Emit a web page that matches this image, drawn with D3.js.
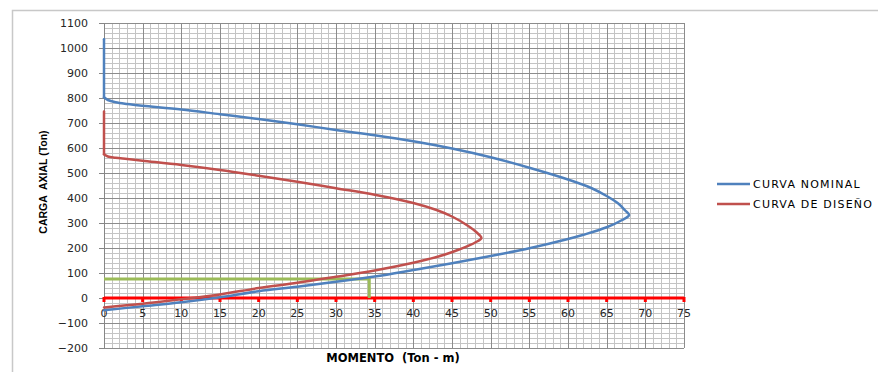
<!DOCTYPE html>
<html>
<head>
<meta charset="utf-8">
<script src="https://cdn.jsdelivr.net/npm/d3@7"></script>
<style>
  html, body { margin: 0; padding: 0; background: #ffffff; }
  svg { display: block; }
</style>
</head>
<body>
<svg id="chart" width="878" height="372"></svg>
<script>
// Interaction diagram: nominal curve and design curve (moment vs axial load)
const nominalMoment = [0, 0, 0.5, 1.5, 3, 5, 10, 15, 20, 25, 30, 35, 40, 45, 50, 55, 60, 63, 65, 66.5, 67.4, 67.9, 67, 65, 62, 60, 55, 50, 45, 40, 35, 30, 25, 20, 15, 10, 5, 0];
const nominalLoad   = [1035, 803, 792, 783, 776, 769, 754, 735, 716, 695, 672, 651, 627, 598, 563, 521, 474, 440, 408, 378, 350, 332, 312, 283, 253, 236, 199, 168, 139, 112, 86, 65, 45, 27, 3, -17, -33, -49];

const designMoment = [0, 0, 0.5, 1.5, 3, 5, 10, 15, 20, 25, 30, 35, 40, 43, 45, 47, 48.2, 48.8, 48, 46, 44, 42, 40, 35, 30, 25, 20, 15, 10, 5, 0];
const designLoad   = [746, 575, 566, 561, 556, 549, 532, 512, 489, 465, 439, 413, 380, 352, 326, 290, 262, 240, 222, 195, 173, 156, 141, 110, 85, 61, 40, 14, -5, -23, -38];

// Design point: required load and moment
const demandMoment = [0, 34.3, 34.3];
const demandLoad   = [76, 76, 0];

const xTicks = d3.range(0, 80, 5);
const yTicks = d3.range(-200, 1200, 100);
const seriesNames = ["CURVA NOMINAL", "CURVA DE DISEÑO"];
const seriesColors = ["#4F81BD", "#C0504D"];

const svg = d3.select("#chart");
const x = d3.scaleLinear().domain([0, 75]).range([104, 684]);
const y = d3.scaleLinear().domain([-200, 1100]).range([348, 23]);

// outer chart frame
svg.append("rect")
  .attr("x", 12.5).attr("y", 10.5).attr("width", 900).attr("height", 400)
  .attr("fill", "none").attr("stroke", "#c8c8c8").attr("stroke-width", 1.5);

const grid = svg.append("g").attr("shape-rendering", "crispEdges");
// minor grid
d3.range(0, 76, 1).filter(v => v % 5 !== 0).forEach(v => {
  grid.append("line")
    .attr("x1", Math.round(x(v)) + 0.5).attr("x2", Math.round(x(v)) + 0.5)
    .attr("y1", y(1100)).attr("y2", y(-200))
    .attr("stroke", "#c4c4c4").attr("stroke-width", 1);
});
d3.range(-200, 1101, 20).filter(v => v % 100 !== 0).forEach(v => {
  grid.append("line")
    .attr("x1", x(0)).attr("x2", x(75))
    .attr("y1", Math.round(y(v)) + 0.5).attr("y2", Math.round(y(v)) + 0.5)
    .attr("stroke", "#c4c4c4").attr("stroke-width", 1);
});
// major grid
xTicks.forEach(v => {
  grid.append("line")
    .attr("x1", Math.round(x(v)) + 0.5).attr("x2", Math.round(x(v)) + 0.5)
    .attr("y1", y(1100)).attr("y2", y(-200))
    .attr("stroke", "#8c8c8c").attr("stroke-width", 1);
});
yTicks.forEach(v => {
  grid.append("line")
    .attr("x1", x(0)).attr("x2", x(75))
    .attr("y1", Math.round(y(v)) + 0.5).attr("y2", Math.round(y(v)) + 0.5)
    .attr("stroke", "#8c8c8c").attr("stroke-width", 1);
});

// y axis
const yAxis = d3.axisLeft(y).tickValues(yTicks).tickSize(5).tickPadding(11).tickFormat(d3.format("d"));
const gy = svg.append("g").attr("transform", `translate(${x(0)},0)`).call(yAxis);
gy.select(".domain").attr("stroke", "#868686");
gy.selectAll(".tick line").attr("stroke", "#868686");
gy.selectAll("text")
  .attr("font-family", "DejaVu Sans, sans-serif").attr("font-size", 11)
  .attr("fill", "#262626");

// x axis drawn along zero load, in red
const xAxisG = svg.append("g").attr("transform", `translate(0,${y(0)})`);
xAxisG.append("line")
  .attr("x1", x(0)).attr("x2", x(75)).attr("y1", 0).attr("y2", 0)
  .attr("stroke", "#FF0000").attr("stroke-width", 3);
xAxisG.selectAll("line.tk").data(xTicks).join("line")
  .attr("class", "tk")
  .attr("x1", d => x(d)).attr("x2", d => x(d))
  .attr("y1", -1).attr("y2", 4)
  .attr("stroke", "#FF0000").attr("stroke-width", 3);
xAxisG.selectAll("text").data(xTicks).join("text")
  .attr("x", d => x(d)).attr("y", 19)
  .attr("text-anchor", "middle")
  .attr("font-family", "DejaVu Sans, sans-serif").attr("font-size", 11)
  .attr("fill", "#262626")
  .text(d => d);

// demand lines
const line = d3.line().x(d => x(d[0])).y(d => y(d[1]));
svg.append("path")
  .datum(d3.zip(demandMoment, demandLoad))
  .attr("d", line)
  .attr("fill", "none").attr("stroke", "#9BBB59").attr("stroke-width", 3);

// interaction curves: straight pure-compression segment, then a smooth curve
const smooth = d3.line().x(d => x(d[0])).y(d => y(d[1])).curve(d3.curveCatmullRom.alpha(0.5));
[[nominalMoment, nominalLoad], [designMoment, designLoad]].forEach((s, i) => {
  const pts = d3.zip(s[0], s[1]);
  const g = svg.append("g")
    .attr("fill", "none").attr("stroke", seriesColors[i])
    .attr("stroke-width", 2.5).attr("stroke-linejoin", "round").attr("stroke-linecap", "round");
  g.append("path").datum(pts.slice(0, 2)).attr("d", line);
  g.append("path").datum(pts.slice(1)).attr("d", smooth);
});

// axis titles
svg.append("text")
  .attr("transform", "translate(47,182) rotate(-90)")
  .attr("text-anchor", "middle")
  .attr("font-family", "Liberation Sans, Arial, sans-serif").attr("font-weight", "bold")
  .attr("font-size", 10.5).attr("fill", "#000")
  .attr("xml:space", "preserve")
  .text("CARGA  AXIAL (Ton)");
svg.append("text")
  .attr("x", 393).attr("y", 362)
  .attr("text-anchor", "middle")
  .attr("font-family", "DejaVu Sans, sans-serif").attr("font-weight", "bold")
  .attr("font-size", 11.5).attr("fill", "#000")
  .attr("xml:space", "preserve")
  .text("MOMENTO  (Ton - m)");

// legend
const legend = svg.append("g");
seriesNames.forEach((name, i) => {
  const ly = 184 + i * 20;
  legend.append("line")
    .attr("x1", 717).attr("x2", 750).attr("y1", ly).attr("y2", ly)
    .attr("stroke", seriesColors[i]).attr("stroke-width", 2.5);
  legend.append("text")
    .attr("x", 753).attr("y", ly + 4)
    .attr("font-family", "DejaVu Sans, sans-serif").attr("font-size", 11)
    .attr("letter-spacing", 1.2)
    .attr("fill", "#000")
    .text(name);
});
</script>
</body>
</html>
